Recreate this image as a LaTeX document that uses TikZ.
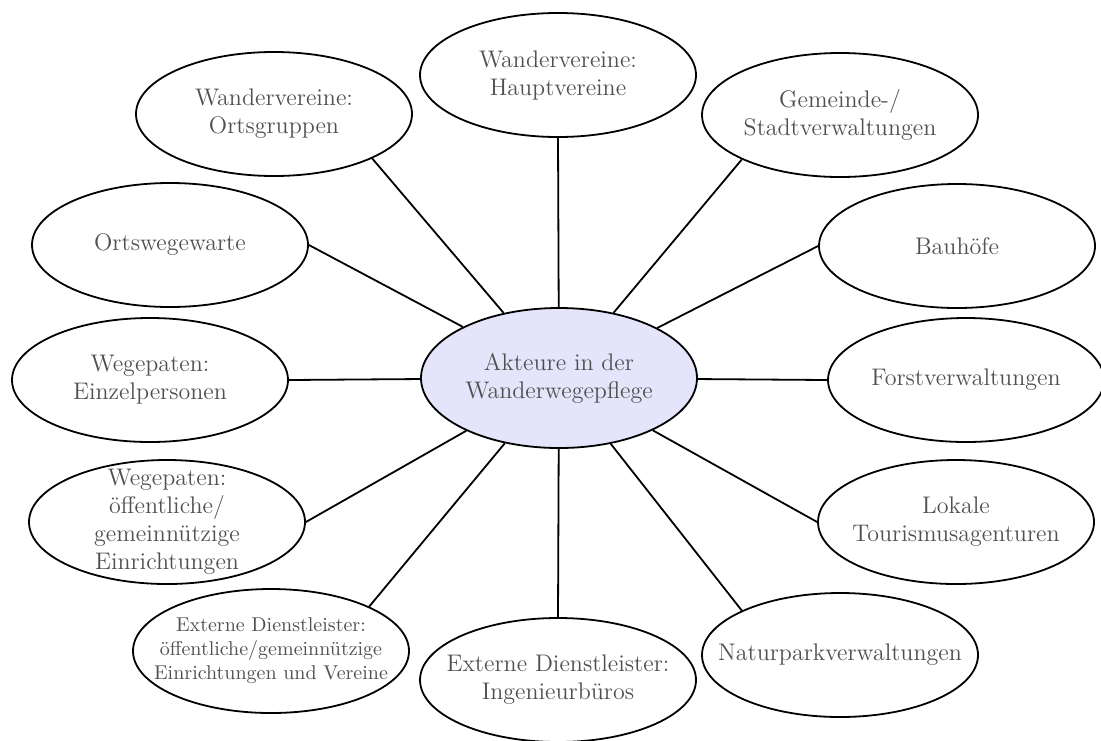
\documentclass[tikz,border=0pt]{standalone}
\usetikzlibrary{shapes.geometric}
\definecolor{txtgray}{RGB}{80,80,80}
\definecolor{centerfill}{RGB}{228,228,250}
\tikzset{
  oval/.style={ellipse, draw=black, line width=0.9pt, inner sep=0pt,
    minimum width=138pt, minimum height=62pt},
  centeroval/.style={ellipse, draw=black, line width=0.9pt, inner sep=0pt,
    fill=centerfill, minimum width=138pt, minimum height=70pt},
  txt/.style={align=center, font=\large, text=txtgray, inner sep=0pt},
  smalltxt/.style={align=center, font=\normalsize, text=txtgray, inner sep=0pt},
  conn/.style={draw=black, line width=0.9pt}
}
\begin{document}
\begin{tikzpicture}[x=0.5pt, y=-0.5pt]
\fill[white] (0,0) rectangle (1101,740);
\useasboundingbox (0,0) rectangle (1101,740);

% ellipses
\node[centeroval] (c) at (559,378) {};
\node[oval] (hv) at (558,75) {};
\node[oval] (og) at (274,114) {};
\node[oval] (gs) at (840,115) {};
\node[oval] (ow) at (170,245) {};
\node[oval] (bh) at (957,246) {};
\node[oval] (ep) at (150,380) {};
\node[oval] (fv) at (966,380) {};
\node[oval] (wo) at (167,522) {};
\node[oval] (lt) at (956,522) {};
\node[oval] (ed) at (271,651) {};
\node[oval] (ib) at (558,680) {};
\node[oval] (np) at (840,655) {};

% connectors
\draw[conn] (c) -- (hv.south);
\draw[conn] (c) -- (og.south east);
\draw[conn] (c) -- (gs.south west);
\draw[conn] (c) -- (ow.east);
\draw[conn] (c) -- (bh.west);
\draw[conn] (c) -- (ep.east);
\draw[conn] (c) -- (fv.west);
\draw[conn] (c) -- (wo.east);
\draw[conn] (c) -- (lt.west);
\draw[conn] (c) -- (ed.north east);
\draw[conn] (c) -- (ib.north);
\draw[conn] (c) -- (np.north west);

% texts
\node[txt] (c-t) at (c) {Akteure in der\\Wanderwegepflege};
\node[txt] (hv-t) at (hv) {Wandervereine:\\Hauptvereine};
\node[txt] (og-t) at (og) {Wandervereine:\\Ortsgruppen};
\node[txt] (gs-t) at (gs) {Gemeinde-/\\Stadtverwaltungen};
\node[txt] (ow-t) at (ow) {Ortswegewarte};
\node[txt] (bh-t) at (bh) {Bauh\"ofe};
\node[txt] (ep-t) at (ep) {Wegepaten:\\Einzelpersonen};
\node[txt] (fv-t) at (fv) {Forstverwaltungen};
\node[txt] (wo-t) at (wo) {Wegepaten:\\\"offentliche/\\gemeinn\"utzige\\Einrichtungen};
\node[txt] (lt-t) at (lt) {Lokale\\Tourismusagenturen};
\node[smalltxt] (ed-t) at (ed) {Externe Dienstleister:\\\"offentliche/gemeinn\"utzige\\Einrichtungen und Vereine};
\node[txt] (ib-t) at (ib) {Externe Dienstleister:\\Ingenieurb\"uros};
\node[txt] (np-t) at (np) {Naturparkverwaltungen};
\end{tikzpicture}
\end{document}
